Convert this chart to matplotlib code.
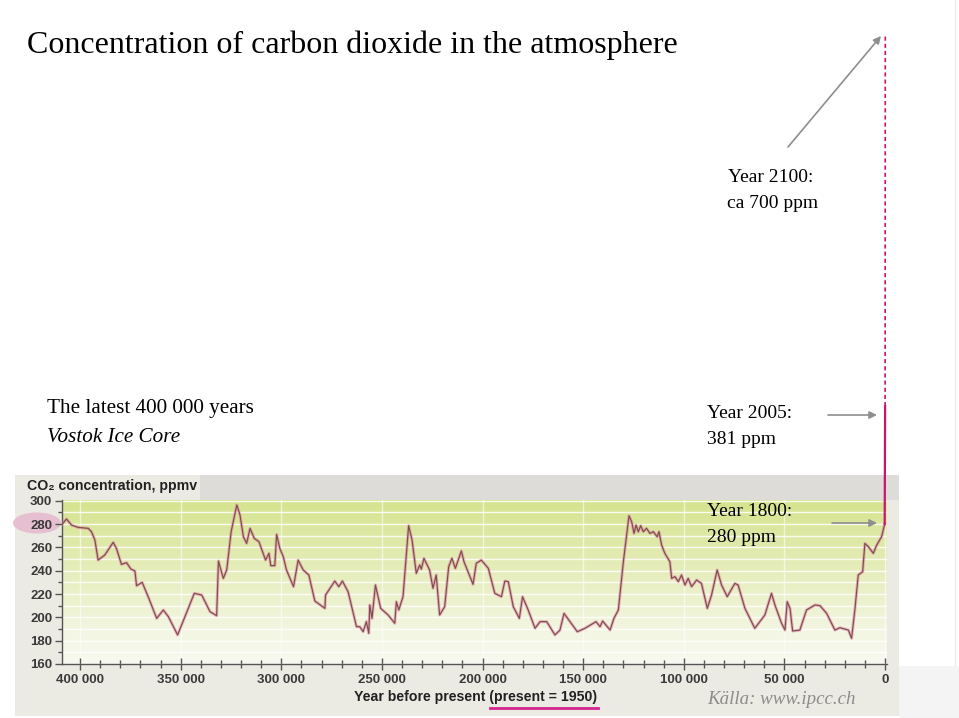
import numpy as np
import matplotlib
matplotlib.use("Agg")
import matplotlib.pyplot as plt
from matplotlib.patches import Rectangle, Ellipse, FancyArrowPatch
from matplotlib.lines import Line2D
from matplotlib.colors import LinearSegmentedColormap

# ---------------- data (Vostok ice core) ----------------
years_bp_k = [410, 406.7, 404.2, 400.9, 395.9, 394.3, 392.6, 391, 387.7, 383.5, 381.9, 379.4,
              376.9, 374.7, 372.7, 371.9, 369.1, 365.8, 361.9, 358.6, 356.1, 351.5, 346.2, 343.2,
              339.5, 335.4, 332.1, 331.2, 328.8, 327.1, 324.9, 322.1, 320.5, 318.8, 317.2, 315.5,
              313.4, 311.1, 307.8, 306.1, 305.2, 303.2, 302.3, 300.7, 299, 297.4, 293.9, 291.6,
              289.1, 286.3, 283.3, 278.3, 278, 273.4, 271.4, 269.6, 266.8, 262.6, 261, 259.3,
              257.7, 256.5, 256, 254.9, 253.2, 250.6, 246.9, 243.6, 242.8, 241.6, 239.5, 236.7,
              235, 232.9, 231.2, 230.4, 229.1, 226.3, 224.6, 223, 221.3, 218.8, 216.8, 215.2,
              213.5, 210.5, 209.2, 204.7, 203.1, 200.6, 197.1, 193.9, 190.6, 188.9, 187.2, 184.7,
              181.7, 180.1, 177.3, 173.9, 171.4, 168.1, 164, 161.5, 159.5, 156.5, 152.9, 149.1,
              143.6, 141.6, 140.3, 136.6, 134.7, 132.5, 130, 127.2, 125.9, 124.7, 123.7, 122.6,
              121.4, 120.1, 118.5, 116.8, 115.1, 113.2, 112.3, 111, 109.4, 106.9, 106, 104.4,
              102.7, 101.1, 99.4, 97.8, 96.1, 93.6, 91.2, 88.3, 86.2, 83.4, 81.2, 78.4,
              74.6, 73, 69.6, 64.7, 59.7, 56.4, 54.7, 51.4, 49.7, 48.6, 47.2, 45.9,
              42.3, 39, 34.8, 32.3, 29, 24.9, 22.4, 18.2, 16.6, 14.9, 13.3, 11.1,
              10, 8.3, 5.8, 4.1, 1.7, 0.15]
co2_ppm = [277.7, 284.3, 279.1, 277.1, 276.3, 273.4, 266.3, 249.1, 253.4, 264.3, 259.1, 245.4,
           246.9, 241.4, 239.7, 227.1, 230, 216.3, 199.1, 206.3, 200.6, 184.9, 207.7, 220.6,
           219.1, 204.9, 201.4, 248.3, 233.4, 240.6, 273.4, 296.3, 287.7, 269.1, 263.4, 276.3,
           267.7, 264.9, 249.1, 254.9, 244.3, 244.3, 271.1, 259.1, 252, 240.6, 226.3, 249.1,
           240.6, 236.3, 214, 207.7, 219.1, 231.1, 226.3, 231.1, 222, 192, 192, 187.7,
           196.3, 186.3, 210.6, 199.1, 227.7, 207.7, 202, 194.9, 213.4, 206.3, 217.7, 278.6,
           266.3, 237.7, 244.9, 241.4, 250.6, 240.6, 224.9, 236.3, 202, 209.1, 243.4, 250.6,
           242, 256.9, 247.7, 228.3, 246.3, 249.1, 242, 220.6, 217.7, 231.1, 230.6, 209.1,
           199.1, 217.7, 206.3, 190.6, 196.3, 196.3, 184.9, 189.1, 203.4, 196.3, 187.7, 190.6,
           196.3, 192, 196.8, 189.1, 199.1, 206.3, 247.7, 287.1, 282, 272, 279.1, 273.4,
           278.6, 273.4, 276.3, 272, 273.4, 269.1, 273.4, 262, 254.9, 247.7, 233.4, 234.9,
           230.6, 236.3, 227.7, 233.4, 226.3, 232, 229.1, 207.7, 219.1, 240.6, 227.7, 217.7,
           229.1, 227.7, 207.7, 190.6, 202, 220.6, 210.6, 194.9, 189.1, 213.4, 207.7, 188.3,
           189.1, 206.3, 210.6, 210, 203.4, 189.1, 191.1, 189.1, 182, 207.7, 236.3, 239.1,
           263.4, 260.6, 254.9, 262, 269.1, 280]

# modern rise (years before 1950) and projection
modern_years = [150, -55]        # 1800 -> 2005
modern_ppm = [280, 381]
proj_years = [-55, -150]         # 2005 -> 2100
proj_ppm = [381, 700]

xtick_values = [400000, 350000, 300000, 250000, 200000, 150000, 100000, 50000, 0]
xtick_labels = ["400 000", "350 000", "300 000", "250 000", "200 000",
                "150 000", "100 000", "50 000", "0"]
ytick_values = [160, 180, 200, 220, 240, 260, 280, 300]

# ---------------- figure ----------------
W, H = 959, 718
fig = plt.figure(figsize=(W / 100, H / 100), dpi=100)
fig.patch.set_facecolor("white")


def fx(px):
    return px / W


def fy(py):
    return 1 - py / H


def P(px, py):
    return (fx(px), fy(py))


def rect(x0, y0, x1, y1, color, z=-3):
    fig.patches.append(Rectangle(P(x0, y1), fx(x1) - fx(x0), fy(y0) - fy(y1),
                                 transform=fig.transFigure, facecolor=color,
                                 edgecolor="none", zorder=z))


# slide decoration / chart image background
rect(15, 475, 899, 716, "#ecebe3")
rect(200, 475, 899, 500, "#dddcd8")
rect(899, 666, 959, 718, "#f4f4f4")
fig.add_artist(Line2D([fx(955), fx(955)], [fy(0), fy(666)], transform=fig.transFigure,
                      color="#ececec", lw=1, zorder=-3))
fig.patches.append(Ellipse(P(37, 523), fx(48), 21 / H, transform=fig.transFigure,
                           facecolor="#e6bfd0", edgecolor="none", zorder=-1))

# main axes
ax = fig.add_axes([fx(62), fy(664), fx(887) - fx(62), fy(500) - fy(664)])
ax.set_facecolor("none")
px_year = 400000 / 805.0
x_left = 400000 + (80 - 62) * px_year
x_right = -(887 - 885) * px_year
y_top = 300 + 0.7 / 1.1667
ax.set_xlim(x_left, x_right)
ax.set_ylim(160, y_top)

cmap = LinearSegmentedColormap.from_list(
    "bg", [(0, "#d5e48e"), (0.45, "#e6eebd"), (0.8, "#f3f6e2"), (1, "#f8f9f1")])
grad = np.linspace(0, 1, 256).reshape(-1, 1)
ax.imshow(grad, extent=[x_left, x_right, 160, y_top], origin="upper", aspect="auto",
          cmap=cmap, zorder=0)

ax.set_yticks(ytick_values)
ax.set_yticks(np.arange(160, 301, 10), minor=True)
ax.set_xticks(xtick_values)
ax.set_xticklabels(xtick_labels)
ax.set_xticks(np.arange(0, 400001, 10000), minor=True)
ax.grid(axis="y", which="both", color="white", lw=1.0, alpha=0.85, zorder=1)
ax.grid(axis="x", which="major", color="white", lw=1.0, alpha=0.6, zorder=1)
ax.set_axisbelow(True)

for s in ("top", "right"):
    ax.spines[s].set_visible(False)
for s in ("left", "bottom"):
    ax.spines[s].set_color("#555555")
    ax.spines[s].set_linewidth(1.0)
ax.tick_params(which="major", direction="out", length=5, width=1, color="#555555",
               labelcolor="#3a3a3a", labelsize=9.5, pad=2)
ax.tick_params(which="minor", direction="out", length=3, width=1, color="#555555")
ax.tick_params(axis="x", which="major", direction="inout", length=8, pad=3)
ax.tick_params(axis="x", which="minor", direction="inout", length=6)
for lab in ax.get_xticklabels() + ax.get_yticklabels():
    lab.set_fontfamily("Liberation Sans")
    lab.set_fontweight("bold")

years = np.array(years_bp_k) * 1000
ax.plot(years, co2_ppm, color="#e46ea6", lw=2.2, alpha=0.5, solid_joinstyle="round", zorder=3)
ax.plot(years, co2_ppm, color="#7a5048", lw=0.85, solid_joinstyle="round", zorder=4)

ax.plot(modern_years, modern_ppm, color="#c8146e", lw=1.6, clip_on=False, zorder=5)
ax.plot(proj_years, proj_ppm, color="#c8146e", lw=1.2, ls=(0, (2.5, 1.8)), clip_on=False,
        zorder=5)

# axis header / label
sans = ["Liberation Sans", "DejaVu Sans"]
fig.text(fx(27), fy(486), "CO\u2082 concentration, ppmv", family=sans, weight="bold",
         fontsize=10.2, color="#222222", va="center", ha="left")
fig.text(fx(476), fy(697), "Year before present (present = 1950)", family=sans,
         weight="bold", fontsize=10.2, color="#222222", va="center", ha="center")
fig.add_artist(Line2D([fx(490), fx(598)], [fy(708), fy(708)], transform=fig.transFigure,
                      color="#d4258d", lw=2))

# slide texts
serif = ["Liberation Serif", "DejaVu Serif"]
fig.text(fx(27), fy(45), "Concentration of carbon dioxide in the atmosphere", family=serif,
         fontsize=23, color="black", va="center", ha="left")
fig.text(fx(47), fy(408), "The latest 400 000 years", family=serif, fontsize=15.2,
         va="center", ha="left")
fig.text(fx(47), fy(438), "Vostok Ice Core", family=serif, style="italic", fontsize=15.2,
         va="center", ha="left")
fs = 14
fig.text(fx(728), fy(177), "Year 2100:", family=serif, fontsize=fs, va="center", ha="left")
fig.text(fx(727), fy(204), "ca 700 ppm", family=serif, fontsize=fs, va="center", ha="left")
fig.text(fx(707), fy(413), "Year 2005:", family=serif, fontsize=fs, va="center", ha="left")
fig.text(fx(707), fy(440), "381 ppm", family=serif, fontsize=fs, va="center", ha="left")
fig.text(fx(707), fy(511), "Year 1800:", family=serif, fontsize=fs, va="center", ha="left")
fig.text(fx(707), fy(538), "280 ppm", family=serif, fontsize=fs, va="center", ha="left")
fig.text(fx(707), fy(699), "Källa: www.ipcc.ch", family=serif, style="italic", fontsize=13.6,
         color="#8c8c8c", va="center", ha="left")

# arrows
for a, b in [((788, 147), (881, 36)), ((828, 415), (877, 415)), ((832, 523), (877, 523))]:
    fig.add_artist(FancyArrowPatch(P(*a), P(*b), transform=fig.transFigure,
                                   arrowstyle="-|>", mutation_scale=11, color="#8e8e8e",
                                   lw=1.2, shrinkA=0, shrinkB=0))

fig.savefig("out.png", dpi=100)
